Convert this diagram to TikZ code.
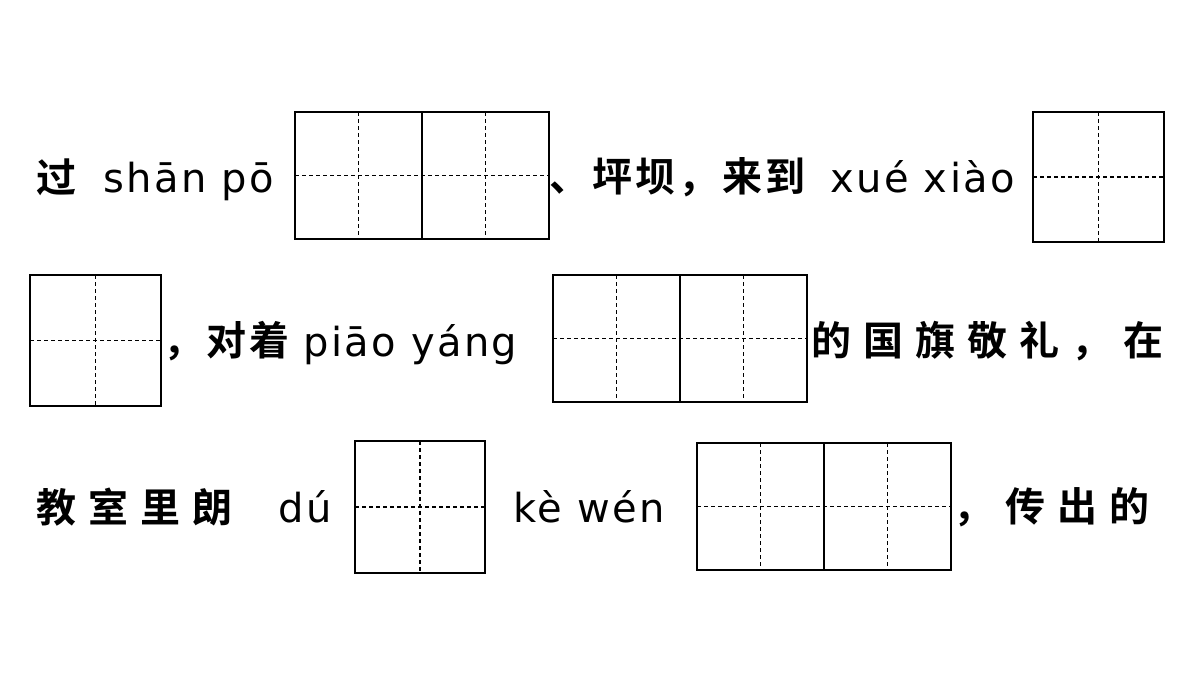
\documentclass[tikz,border=0pt]{standalone}
\usepackage{fontspec}
\setmainfont{DejaVu Sans}[LetterSpace=6]
\newfontfamily\cjk{Noto Sans CJK SC Bold}[LetterSpace=30]
\newfontfamily\cjkn{Noto Sans CJK SC Bold}[LetterSpace=8]
\begin{document}
\begin{tikzpicture}[x=0.5pt,y=-0.5pt,
  box/.style={line width=1.2pt},
  grid/.style={line width=0.6pt,dash pattern=on 2pt off 1.5pt},
  cn/.style={anchor=west,inner sep=0pt,font=\cjk\fontsize{20}{20}\selectfont},
  cnn/.style={anchor=west,inner sep=0pt,font=\cjkn\fontsize{20}{20}\selectfont},
  py/.style={anchor=base west,inner sep=0pt,font=\fontsize{20}{20}\selectfont}]
\useasboundingbox (0,0) rectangle (1200,675);
\newcommand\tiangrid[5]{%
  \pgfmathsetmacro\cw{#3/#5}
  \draw[box] (#1,#2) rectangle ++(#3,#4);
  \draw[grid] (#1,#2+#4/2) -- ++(#3,0);
  \foreach \i in {1,...,#5}{
    \draw[grid] (#1+\cw*\i-\cw/2,#2) -- ++(0,#4);
  }
  \ifnum#5>1 \foreach \i in {2,...,#5}{\draw[box,line width=0.8pt] (#1+\cw*\i-\cw,#2) -- ++(0,#4);}\fi
}
\tiangrid{295}{112}{254}{127}{2}
\tiangrid{1033}{112}{131}{130}{1}
\tiangrid{30}{275}{131}{131}{1}
\tiangrid{553}{275}{254}{127}{2}
\tiangrid{355}{441}{130}{132}{1}
\tiangrid{697}{443}{254}{127}{2}
\node[cn] (t1) at (36,177) {过};
\node[py] (p1) at (103,192) {shān pō};
\node[cnn] (t2) at (549,177) {、坪坝，来到};
\node[py] (p2) at (830,192) {xué xiào};
\node[cnn] (t3) at (163,341) {，对着};
\node[py] (p3) at (303,356) {piāo yáng};
\node[cn] (t4) at (811,341) {的国旗敬礼，在};
\node[cn] (t5) at (36,507) {教室里朗};
\node[py] (p4) at (278,522) {dú};
\node[py] (p5) at (513,522) {kè wén};
\node[cn] (t6) at (953,507) {，传出的};
\end{tikzpicture}
\end{document}
